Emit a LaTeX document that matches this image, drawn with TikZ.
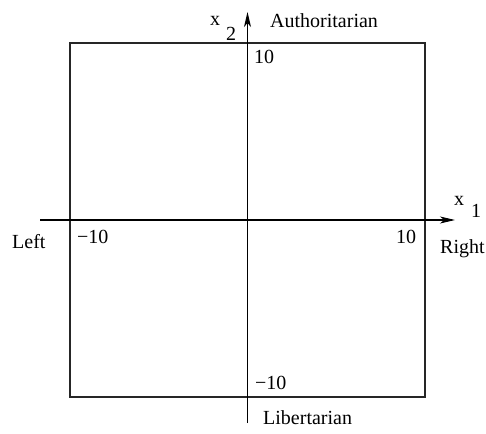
\documentclass[tikz,border=0pt]{standalone}
\usepackage{fontspec}
\setmainfont{Liberation Serif}
\usetikzlibrary{arrows.meta}
\begin{document}
\begin{tikzpicture}[x=1pt,y=-1pt,
  lbl/.style={anchor=base west,inner sep=0pt,font=\fontsize{20}{24}\selectfont},
  axis/.style={line width=1.1pt,-{Stealth[length=15pt,width=7pt,inset=4pt]}},
  frame/.style={line width=1.7pt,draw=black!85}]
\useasboundingbox (0,0) rectangle (486,433);
\coordinate (sq1) at (70,43);
\coordinate (sq2) at (425,397);
\draw[frame] (sq1) rectangle (sq2);
\coordinate (hl) at (40,220);
\coordinate (hr) at (455,220);
\coordinate (vb) at (247.5,423);
\coordinate (vt) at (247.5,12);
\draw[axis] (hl) -- (hr);
\draw[axis] (vb) -- (vt);
\node[lbl] (auth) at (270,28) {Authoritarian};
\node[lbl] (x2x) at (210,26) {x};
\node[lbl] (x2s) at (226,41) {2};
\node[lbl] (top) at (254,64) {10};
\node[lbl] (x1x) at (454,205) {x};
\node[lbl] (x1s) at (471,217) {1};
\node[lbl] (left) at (12,248) {Left};
\node[lbl] (lmin) at (77,243) {−10};
\node[lbl] (rten) at (396,243) {10};
\node[lbl] (right) at (440,253) {Right};
\node[lbl] (bmin) at (255,389) {−10};
\node[lbl] (lib) at (263,424) {Libertarian};
\end{tikzpicture}
\end{document}
